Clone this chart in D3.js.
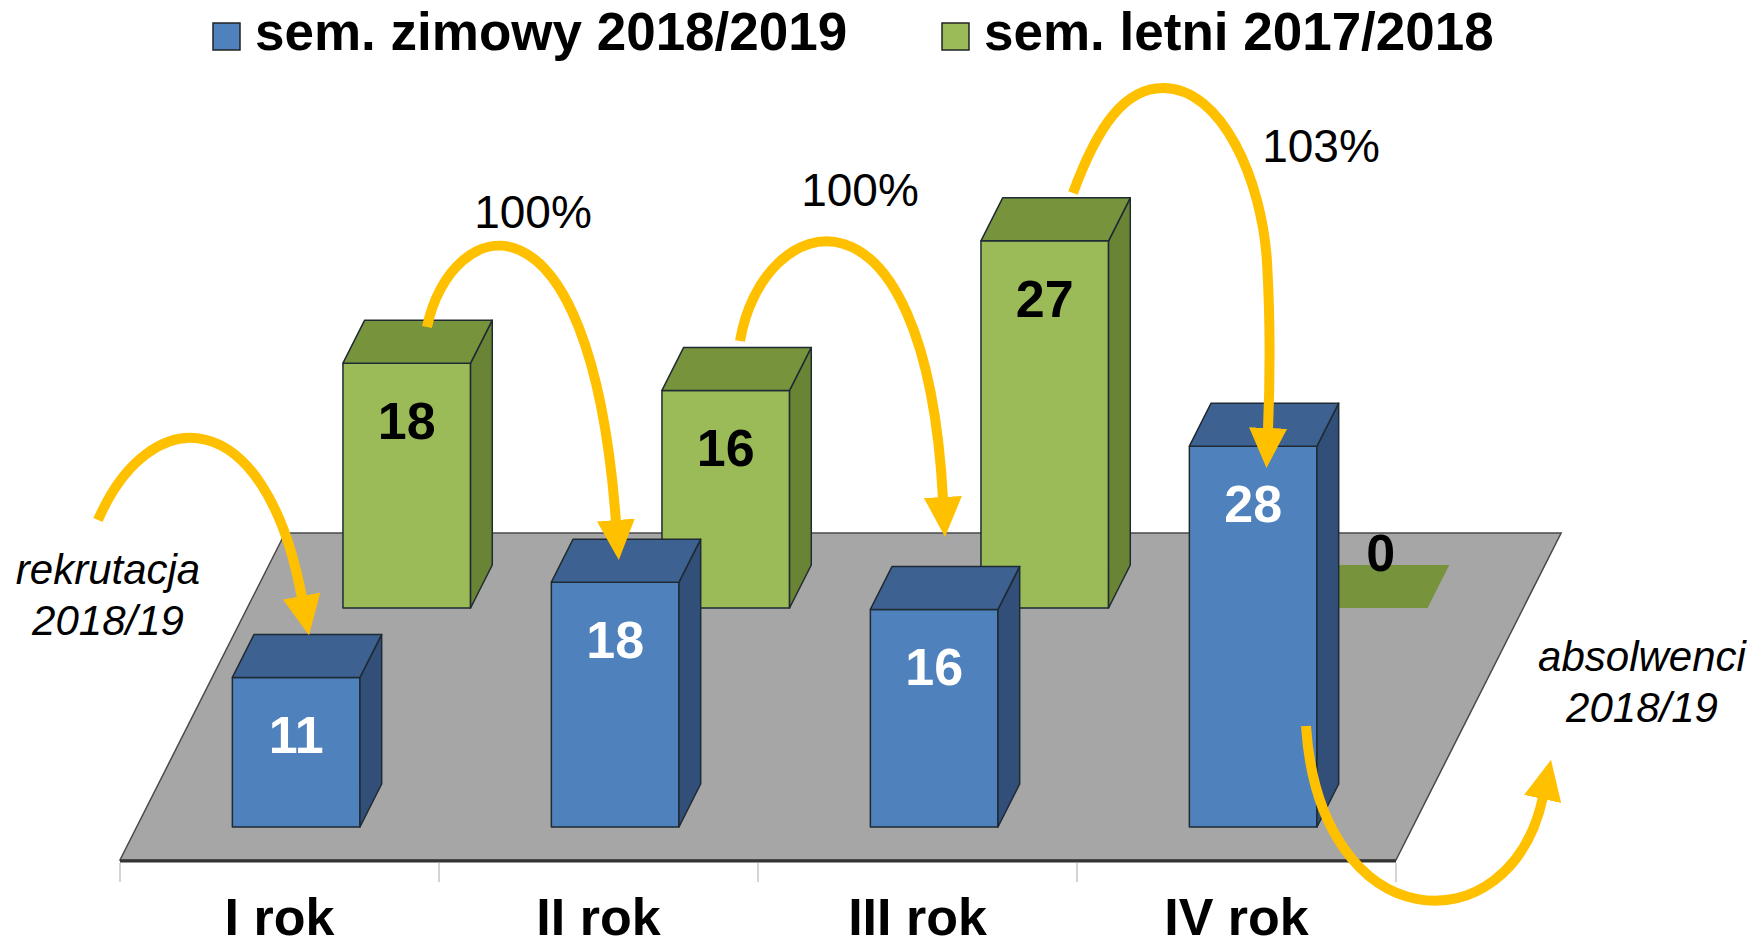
<!DOCTYPE html>
<html>
<head>
<meta charset="utf-8">
<script src="https://cdn.jsdelivr.net/npm/d3@7"></script>
<style>
body { margin: 0; background: #fff; }
svg { display: block; font-family: "Liberation Sans", Arial, sans-serif; }
</style>
</head>
<body>
<svg id="canvas" width="1754" height="947"></svg>
<script>
// chart data
let categories = ['I rok', 'II rok', 'III rok', 'IV rok']
let seriesNames = ['sem. zimowy 2018/2019', 'sem. letni 2017/2018']
let winterValues = [11, 18, 16, 28]
let summerValues = [18, 16, 27, 0]
let transferLabels = ['100%', '100%', '103%']
let inLabel = ['rekrutacja', '2018/19']
let outLabel = ['absolwenci', '2018/19']

let canvas = d3.select('#canvas')

// 3d floor geometry
let floorY = 860
let floorDepth = 327
let shear = 0.505
let boxDepth = 43
let px = (x, d) => x + shear * d
let py = (d, hgt) => floorY - d - hgt

let x = d3.scaleBand().domain(categories).range([120, 1396])
let bw = x.bandwidth()
let h = d3.scaleLinear().domain([0, 30]).range([0, 408])

let series = [
    {name: seriesNames[1], values: summerValues, depth: 252, front: '#9BBB59', top: '#77933C', side: '#6A8435', text: '#000'},
    {name: seriesNames[0], values: winterValues, depth: 33, front: '#4F81BD', top: '#3D6291', side: '#314F78', text: '#fff'}
]

let pts = (arr) => arr.map(p => p.join(',')).join(' ')

// floor
let x0f = x.range()[0], x1f = x.range()[1]
canvas.append('polygon')
    .attr('points', pts([[px(x0f, 0), py(0, 0)], [px(x1f, 0), py(0, 0)],
                         [px(x1f, floorDepth), py(floorDepth, 0)], [px(x0f, floorDepth), py(floorDepth, 0)]]))
    .attr('fill', '#A6A6A6')
    .attr('stroke', '#4a4a4a')
    .attr('stroke-width', 1.5)
canvas.append('line')
    .attr('x1', x0f).attr('x2', x1f)
    .attr('y1', floorY + 1).attr('y2', floorY + 1)
    .attr('stroke', '#333').attr('stroke-width', 3)

// category ticks
let bounds = categories.map(c => x(c)).concat([x1f])
canvas.selectAll('.tick')
    .data(bounds)
    .enter()
    .append('line')
    .attr('x1', d => d).attr('x2', d => d)
    .attr('y1', floorY + 3).attr('y2', floorY + 22)
    .attr('stroke', '#aaa').attr('stroke-width', 1)

// bars
series.forEach(s => {
    let g = canvas.append('g')
    s.values.forEach((v, i) => {
        let xa = x(categories[i]) + bw * 0.3
        let xb = xa + bw * 0.4
        let d0 = s.depth, d1 = s.depth + boxDepth
        let H = h(v)
        if (H > 0) {
            g.append('polygon')
                .attr('points', pts([[px(xa, d0), py(d0, 0)], [px(xb, d0), py(d0, 0)], [px(xb, d0), py(d0, H)], [px(xa, d0), py(d0, H)]]))
                .attr('fill', s.front).attr('stroke', '#1f2a33').attr('stroke-width', 1.5).attr('stroke-linejoin', 'round')
            g.append('polygon')
                .attr('points', pts([[px(xb, d0), py(d0, 0)], [px(xb, d1), py(d1, 0)], [px(xb, d1), py(d1, H)], [px(xb, d0), py(d0, H)]]))
                .attr('fill', s.side).attr('stroke', '#1f2a33').attr('stroke-width', 1.5).attr('stroke-linejoin', 'round')
        }
        g.append('polygon')
            .attr('points', pts([[px(xa, d0), py(d0, H)], [px(xb, d0), py(d0, H)], [px(xb, d1), py(d1, H)], [px(xa, d1), py(d1, H)]]))
            .attr('fill', s.top).attr('stroke', H > 0 ? '#1f2a33' : 'none').attr('stroke-width', 1.5).attr('stroke-linejoin', 'round')

        let cx = px((xa + xb) / 2, d0)
        let ty = py(d0, H) + 76
        if (H === 0) {
            cx = cx + 17
            ty = py(d0, 0) - 37
        }
        g.append('text')
            .text(v)
            .attr('x', cx).attr('y', ty)
            .attr('text-anchor', 'middle')
            .attr('font-size', 52).attr('font-weight', 'bold')
            .attr('fill', H === 0 ? '#000' : s.text)
    })
})

// category labels
canvas.selectAll('.cat')
    .data(categories)
    .enter()
    .append('text')
    .text(d => d)
    .attr('x', d => x(d) + bw / 2)
    .attr('y', 935)
    .attr('text-anchor', 'middle')
    .attr('font-size', 52)
    .attr('font-weight', 'bold')
    .attr('fill', '#000')

// legend
let legendX = [213, 942]
seriesNames.forEach((name, i) => {
    let s = series.find(d => d.name === name)
    canvas.append('rect')
        .attr('x', legendX[i]).attr('y', 23)
        .attr('width', 27).attr('height', 27)
        .attr('fill', s.front).attr('stroke', '#222').attr('stroke-width', 1.5)
    canvas.append('text')
        .text(name)
        .attr('x', legendX[i] + 42).attr('y', 50)
        .attr('font-size', 53).attr('font-weight', 'bold')
        .attr('fill', '#000')
})

// transfer arrows
let orange = '#FFC000'
canvas.append('defs').append('marker')
    .attr('id', 'head')
    .attr('markerUnits', 'userSpaceOnUse')
    .attr('viewBox', '0 0 40 38')
    .attr('markerWidth', 40).attr('markerHeight', 38)
    .attr('refX', 2).attr('refY', 19)
    .attr('orient', 'auto')
    .append('path')
    .attr('d', 'M0,0 L40,19 L0,38 Z')
    .attr('fill', orange)

let arrows = [
    'M98,520 C150,400 265,400 302,598',
    'M427,327 C450,215 590,170 616,522',
    'M740,341 C762,210 925,160 943,499',
    'M1073,193 C1098,125 1125,88 1163,88 C1222,88 1262,180 1267,262 C1271,330 1270,380 1268,430',
    'M1306,726 C1320,940 1510,950 1543,797'
]
canvas.selectAll('.arrow')
    .data(arrows)
    .enter()
    .append('path')
    .attr('d', d => d)
    .attr('fill', 'none')
    .attr('stroke', orange)
    .attr('stroke-width', 10)
    .attr('marker-end', 'url(#head)')

let pctPos = [[533, 228], [860, 206], [1321, 162]]
transferLabels.forEach((t, i) => {
    canvas.append('text')
        .text(t)
        .attr('x', pctPos[i][0]).attr('y', pctPos[i][1])
        .attr('text-anchor', 'middle')
        .attr('font-size', 46)
        .attr('fill', '#000')
})

let notes = [{lines: inLabel, x: 108, y: 584}, {lines: outLabel, x: 1642, y: 671}]
notes.forEach(n => {
    n.lines.forEach((l, j) => {
        canvas.append('text')
            .text(l)
            .attr('x', n.x).attr('y', n.y + j * 51)
            .attr('text-anchor', 'middle')
            .attr('font-size', 42)
            .attr('font-style', 'italic')
            .attr('fill', '#000')
    })
})
</script>
</body>
</html>
